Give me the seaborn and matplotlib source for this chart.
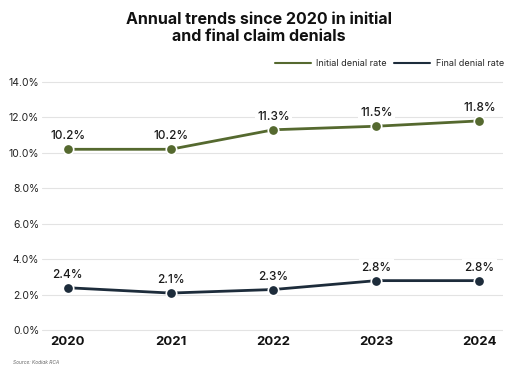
import matplotlib
matplotlib.use("Agg")
import matplotlib.pyplot as plt
import seaborn as sns
import pandas as pd
from matplotlib.lines import Line2D

years = [2020, 2021, 2022, 2023, 2024]
initial_rate = [10.2, 10.2, 11.3, 11.5, 11.8]
final_rate = [2.4, 2.1, 2.3, 2.8, 2.8]
series_names = ["Initial denial rate", "Final denial rate"]
yticks = [0, 2, 4, 6, 8, 10, 12, 14]

sns.set_theme(style="white")
plt.rcParams['font.family'] = ['Inter', 'DejaVu Sans']

df = pd.DataFrame({
    "year": years * 2,
    "rate": initial_rate + final_rate,
    "series": [series_names[0]] * len(years) + [series_names[1]] * len(years),
})

colors = {series_names[0]: "#55692f", series_names[1]: "#1d2c3b"}

fig = plt.figure(figsize=(5.05, 3.69), dpi=100)
ax = fig.add_axes([0.083, 0.100, 0.913, 0.683])

sns.lineplot(data=df, x="year", y="rate", hue="series", palette=colors,
             marker="o", markersize=7.5, linewidth=2, markeredgewidth=1.2,
             markeredgecolor="white", ax=ax, legend=False)

for name, vals in zip(series_names, [initial_rate, final_rate]):
    for x, v in zip(years, vals):
        ax.annotate(f"{v:.1f}%", (x, v), xytext=(0, 5), textcoords="offset points",
                    ha="center", va="bottom", fontsize=8.5, fontweight="medium", color="#1a1a1a",
                    zorder=1.5,
                    bbox=dict(boxstyle="square,pad=0.2", fc="white", ec="none"))

ax.set_xlim(2019.75, 2024.23)
ax.set_ylim(-0.1, 14.1)
ax.set_yticks(yticks)
ax.set_yticklabels([f"{t:.1f}%" for t in yticks], fontsize=7.5, color="#222222")
ax.set_xticks(years)
ax.set_xticklabels([str(y) for y in years], fontsize=9.5, fontweight="bold", color="#111111")
ax.tick_params(axis="both", length=0, pad=2)
ax.tick_params(axis="x", pad=3)
ax.grid(axis="y", color="#e3e3e3", linewidth=0.8)
ax.set_axisbelow(True)
for s in ax.spines.values():
    s.set_visible(False)
ax.set_xlabel("")
ax.set_ylabel("")

handles = [Line2D([0], [0], color=colors[n], lw=1.5) for n in series_names]
leg = fig.legend(handles, series_names, loc="center right", bbox_to_anchor=(0.998, 0.828),
                 ncol=2, frameon=False, fontsize=6.5, handlelength=4, columnspacing=0.8,
                 handletextpad=0.6, borderaxespad=0, borderpad=0)

fig.text(0.512, 0.925, "Annual trends since 2020 in initial\nand final claim denials",
         ha="center", va="center", fontsize=11.5, fontweight="bold", color="#111111", linespacing=1.15)
fig.text(0.025, 0.013, "Source: Kodiak RCA", fontsize=3.5, style="italic", color="#666666")

fig.savefig("out.png", dpi=100)
